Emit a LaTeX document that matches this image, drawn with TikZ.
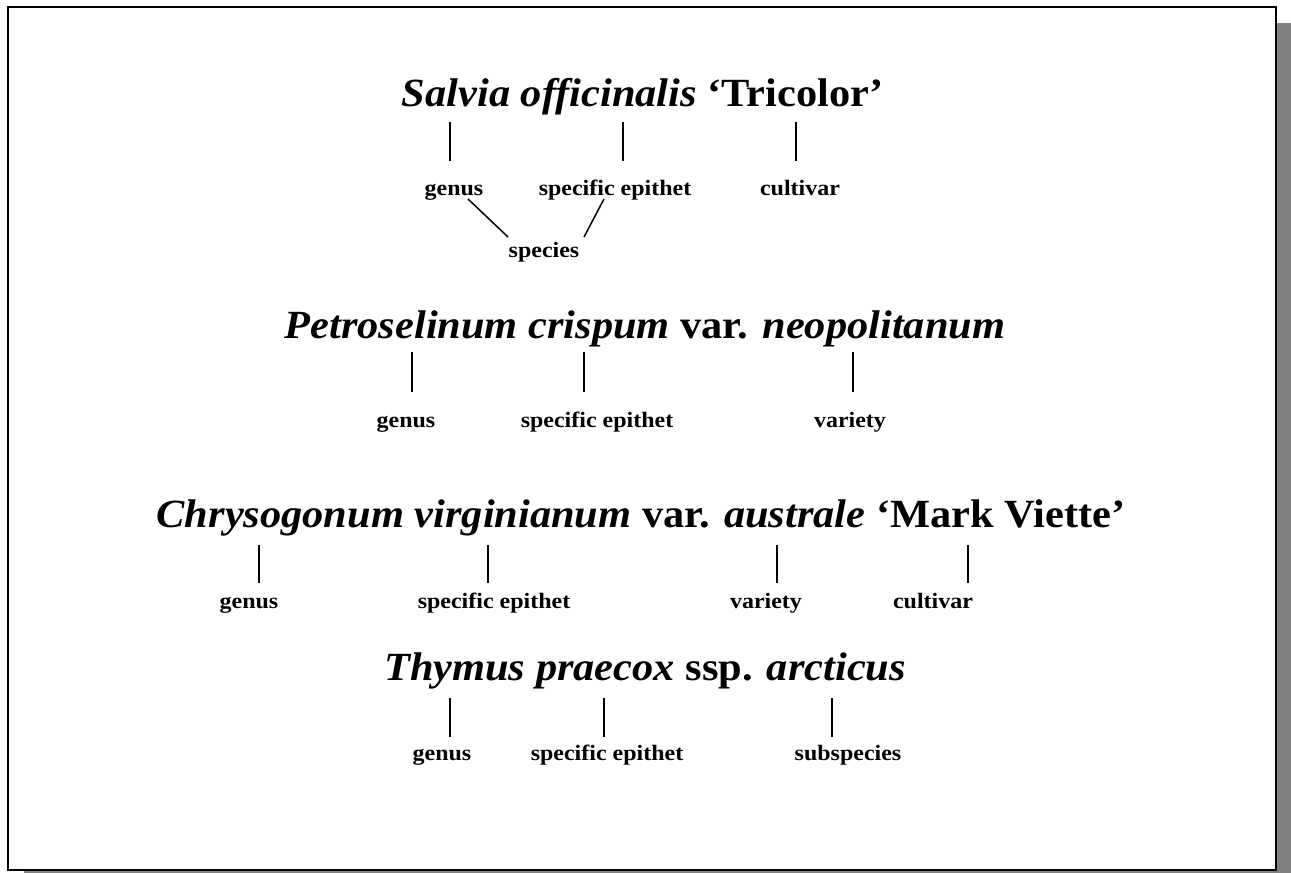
\documentclass[tikz,border=0pt]{standalone}
\usepackage{fontspec}
\setmainfont{Liberation Serif}
\newfontfamily\fbd{Liberation Serif Bold}
\newfontfamily\fbi{Liberation Serif Bold Italic}
\usepackage{graphicx}
\newcommand{\bi}[1]{{\fbi #1}}
\newcommand{\bb}[1]{{\fbd #1}}
\newcommand{\hs}[1]{\scalebox{1.06}[1]{#1}}
\newcommand{\ls}[1]{\scalebox{1.09}[1]{{\fbd #1}}}
\begin{document}
\begin{tikzpicture}[x=1pt,y=-1pt,
  ttl/.style={anchor=base,inner sep=0pt,font=\fontsize{40}{44}\selectfont},
  lab/.style={anchor=base,inner sep=0pt,font=\fontsize{22}{26}\selectfont},
  tick/.style={line width=1.5pt},
  frame/.style={draw=black,line width=2.5pt,fill=white},
  shadow/.style={fill=black!50,draw=none}]
\useasboundingbox (0,0) rectangle (1291,873);
% frame with shadow
\fill[shadow] (24,23) rectangle (1295,880);
\draw[frame] (8,7) rectangle (1276,870);

% Row 1
\node[ttl] (t1) at (643,106) {\hs{\bi{Salvia officinalis} \bb{‘Tricolor’}}};
\node[lab] (g1) at (454,195) {\ls{genus}};
\node[lab] (e1) at (615,195) {\ls{specific epithet}};
\node[lab] (c1) at (800,195) {\ls{cultivar}};
\node[lab] (s1) at (544,257) {\ls{species}};
\coordinate (a1) at (450,122); \coordinate (b1) at (450,161);
\coordinate (a2) at (623,122); \coordinate (b2) at (623,161);
\coordinate (a3) at (796,122); \coordinate (b3) at (796,161);
\draw[tick] (a1) -- (b1);
\draw[tick] (a2) -- (b2);
\draw[tick] (a3) -- (b3);
\coordinate (d1) at (468,199); \coordinate (d2) at (508,237);
\coordinate (d3) at (604,199); \coordinate (d4) at (584,237);
\draw[tick] (d1) -- (d2);
\draw[tick] (d3) -- (d4);

% Row 2
\node[ttl] (t2) at (645,338) {\hs{\bi{Petroselinum crispum} \bb{var.} \bi{neopolitanum}}};
\node[lab] (g2) at (406,427) {\ls{genus}};
\node[lab] (e2) at (597,427) {\ls{specific epithet}};
\node[lab] (v2) at (850,427) {\ls{variety}};
\coordinate (p1) at (412,352); \coordinate (q1) at (412,392);
\coordinate (p2) at (584,352); \coordinate (q2) at (584,392);
\coordinate (p3) at (853,352); \coordinate (q3) at (853,392);
\draw[tick] (p1) -- (q1);
\draw[tick] (p2) -- (q2);
\draw[tick] (p3) -- (q3);

% Row 3
\node[ttl] (t3) at (641,527) {\hs{\bi{Chrysogonum virginianum} \bb{var.} \bi{australe} \bb{‘Mark Viette’}}};
\node[lab] (g3) at (249,608) {\ls{genus}};
\node[lab] (e3) at (494,608) {\ls{specific epithet}};
\node[lab] (v3) at (766,608) {\ls{variety}};
\node[lab] (c3) at (933,608) {\ls{cultivar}};
\coordinate (m1) at (259,545); \coordinate (n1) at (259,583);
\coordinate (m2) at (488,545); \coordinate (n2) at (488,583);
\coordinate (m3) at (777,545); \coordinate (n3) at (777,583);
\coordinate (m4) at (968,545); \coordinate (n4) at (968,583);
\draw[tick] (m1) -- (n1);
\draw[tick] (m2) -- (n2);
\draw[tick] (m3) -- (n3);
\draw[tick] (m4) -- (n4);

% Row 4
\node[ttl] (t4) at (645,680) {\hs{\bi{Thymus praecox} \bb{ssp.} \bi{arcticus}}};
\node[lab] (g4) at (442,760) {\ls{genus}};
\node[lab] (e4) at (607,760) {\ls{specific epithet}};
\node[lab] (s4) at (848,760) {\ls{subspecies}};
\coordinate (u1) at (450,698); \coordinate (w1) at (450,737);
\coordinate (u2) at (604,698); \coordinate (w2) at (604,737);
\coordinate (u3) at (832,698); \coordinate (w3) at (832,737);
\draw[tick] (u1) -- (w1);
\draw[tick] (u2) -- (w2);
\draw[tick] (u3) -- (w3);
\end{tikzpicture}
\end{document}
